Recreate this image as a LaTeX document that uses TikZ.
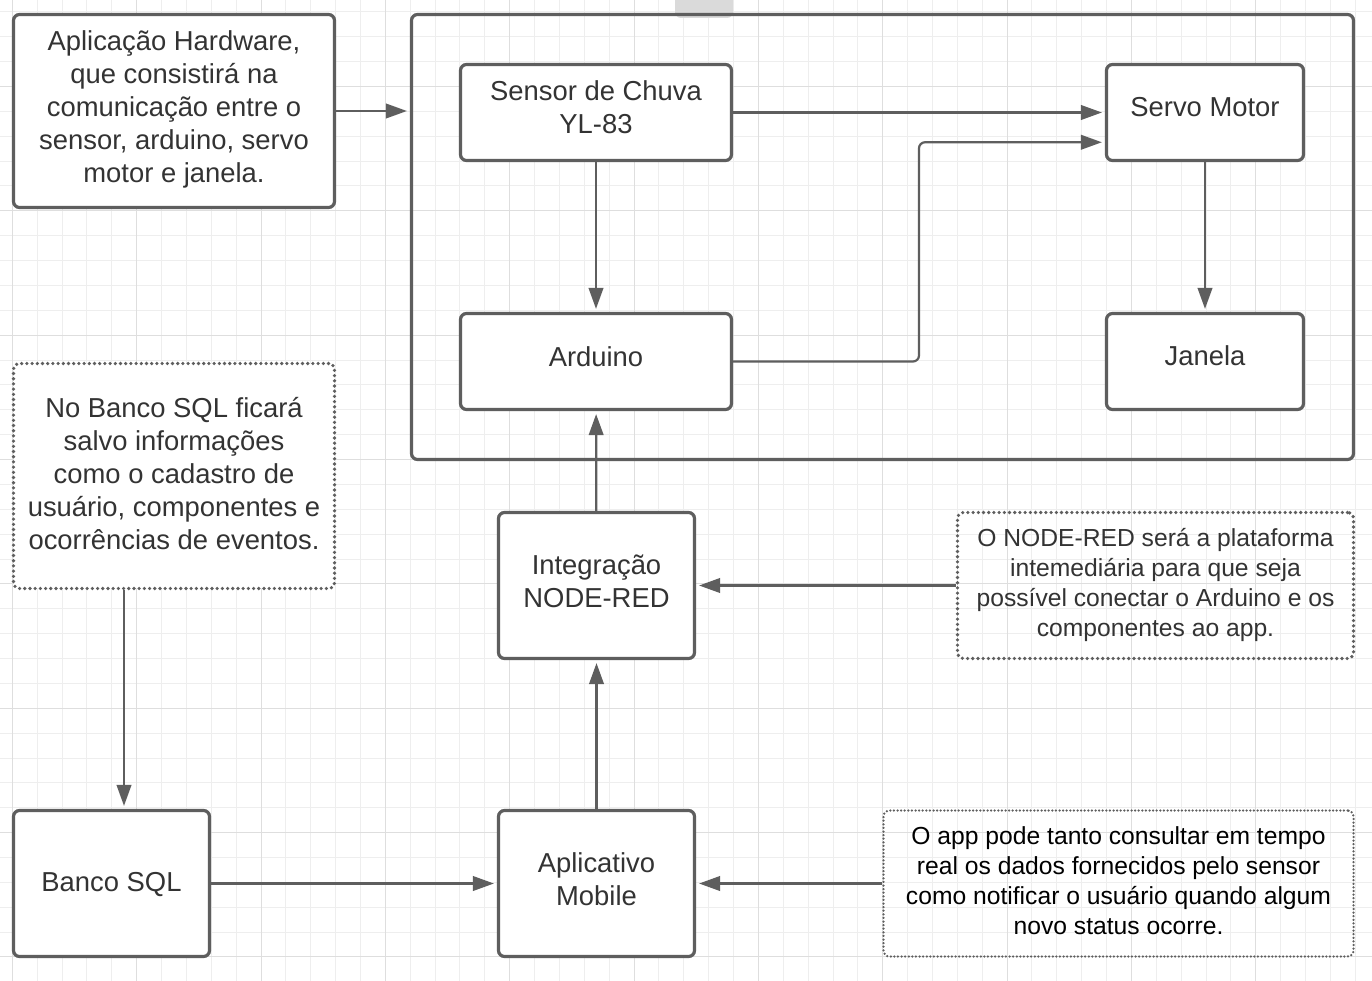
\documentclass[tikz,border=0pt]{standalone}
\usepackage{fontspec}
\setmainfont{Liberation Sans}
\usetikzlibrary{arrows.meta,calc}
\newdimen\pxu \pxu=0.75pt
\definecolor{lc}{HTML}{5E5E5E}
\definecolor{tc}{HTML}{333333}
\definecolor{gminor}{HTML}{EEEEEE}
\definecolor{gmajor}{HTML}{DEDEDE}
\definecolor{tabc}{HTML}{DADADA}
\newcommand\fbig{\fontsize{20.55pt}{24.75pt}\selectfont}
\newcommand\fsmall{\fontsize{18.5pt}{22.3pt}\selectfont}
% #1 extra height, #2 extra depth, #3 lines
\newcommand\txt[3]{\raisebox{0pt}[\dimexpr\height+#1\relax][\dimexpr\depth+#2\relax]{\begin{tabular}{@{}c@{}}#3\end{tabular}}}
\begin{document}
\begin{tikzpicture}[x=0.75pt,y=-0.75pt,
  box/.style={draw=lc, line width=3.2\pxu, rounded corners=6\pxu, fill=white, align=center, text=tc, inner sep=0pt, font=\fbig},
  note/.style={draw=lc, line width=3.6\pxu, line cap=round, dash pattern=on 0pt off 5.2\pxu, rounded corners=6\pxu, align=center, text=tc, inner sep=0pt, font=\fsmall},
  arr/.style={draw=lc, line width=2.2\pxu, -{Triangle[length=15.75pt,width=10.9pt]}, shorten >=2.25pt},
  gridminor/.style={draw=gminor, line width=1\pxu},
  gridmajor/.style={draw=gmajor, line width=1\pxu}]
\useasboundingbox (0,0) rectangle (1372,981);
\fill[white] (0,0) rectangle (1372,981);
% background grid
\foreach \k in {0,...,54} \draw[gridminor] ({12.3+24.87*\k},0) -- ++(0,981);
\foreach \k in {0,...,39} \draw[gridminor] (0,{11.9+24.87*\k}) -- ++(1372,0);
\foreach \k in {0,5,...,50} \draw[gridmajor] ({12.3+24.87*\k},0) -- ++(0,981);
\foreach \k in {3,8,...,38} \draw[gridmajor] (0,{11.9+24.87*\k}) -- ++(1372,0);
% tab at top
\fill[tabc] (675,0) [rounded corners=6\pxu] -- (675,18) -- (733,18) [sharp corners] -- (733,0) -- cycle;
% container
\node[draw=lc, line width=3.2\pxu, rounded corners=6\pxu, minimum width=942\pxu, minimum height=445\pxu, inner sep=0pt] (cont) at (882.5,237) {};
% boxes
\node[box, minimum width=321\pxu, minimum height=193\pxu] (hw) at (174,111) {\txt{0pt}{1.2pt}{Aplicação Hardware,\\que consistirá na\\comunicação entre o\\sensor, arduino, servo\\motor e janela.}};
\node[box, minimum width=271\pxu, minimum height=96\pxu] (sensor) at (596,112.5) {\txt{0pt}{3.15pt}{Sensor de Chuva\\YL-83}};
\node[box, minimum width=197\pxu, minimum height=96\pxu] (servo) at (1205,112.5) {\txt{0pt}{3.45pt}{Servo Motor}};
\node[box, minimum width=271\pxu, minimum height=96\pxu] (arduino) at (596,361.5) {\txt{0pt}{1.95pt}{Arduino}};
\node[box, minimum width=197\pxu, minimum height=96\pxu] (janela) at (1205,361.5) {\txt{0pt}{3.45pt}{Janela}};
\node[box, minimum width=196\pxu, minimum height=146\pxu] (integ) at (596.5,585.5) {\txt{0pt}{1.95pt}{Integração\\NODE-RED}};
\node[box, minimum width=196\pxu, minimum height=146\pxu] (banco) at (111.5,883.5) {\txt{2.1pt}{0pt}{Banco SQL}};
\node[box, minimum width=196\pxu, minimum height=146\pxu] (app) at (596.5,883.5) {\txt{0pt}{2.4pt}{Aplicativo\\Mobile}};
% notes
\node[note, fill=white, font=\fbig, minimum width=321\pxu, minimum height=225\pxu] (nsql) at (174,476) {\txt{1.8pt}{0pt}{No Banco SQL ficará\\salvo informações\\como o cadastro de\\usuário, componentes e\\ocorrências de eventos.}};
\node[note, minimum width=396\pxu, minimum height=146\pxu] (nnr) at (1155.5,585.5) {\txt{0pt}{0pt}{O NODE-RED será a plataforma\\intemediária para que seja\\possível conectar o Arduino e os\\componentes ao app.}};
\node[note, text=black, line width=2.5\pxu, dash pattern=on 0pt off 3.6\pxu, minimum width=470\pxu, minimum height=146\pxu] (napp) at (1118.5,883.5) {\txt{0pt}{0pt}{O app pode tanto consultar em tempo\\real os dados fornecidos pelo sensor\\como notificar o usuário quando algum\\novo status ocorre.}};
% connectors
\coordinate (bendx) at (919,0);
\coordinate (sqlx) at (124,0);
\draw[arr] (hw.east) -- (hw.east -| cont.west);
\draw[arr] (sensor) -- (servo);
\draw[arr, rounded corners=6\pxu] (arduino.east) -- (arduino.east -| bendx) |- ($(servo.west)!0.6!(servo.south west)$);
\draw[arr] (sensor) -- (arduino);
\draw[arr] (servo) -- (janela);
\draw[arr] (integ) -- (arduino);
\draw[arr] (nnr) -- (integ);
\draw[arr] (app) -- (integ);
\draw[arr] (banco) -- (app);
\draw[arr] (napp) -- (app);
\draw[arr] (nsql.south -| sqlx) -- (banco.north -| sqlx);
\end{tikzpicture}
\end{document}
